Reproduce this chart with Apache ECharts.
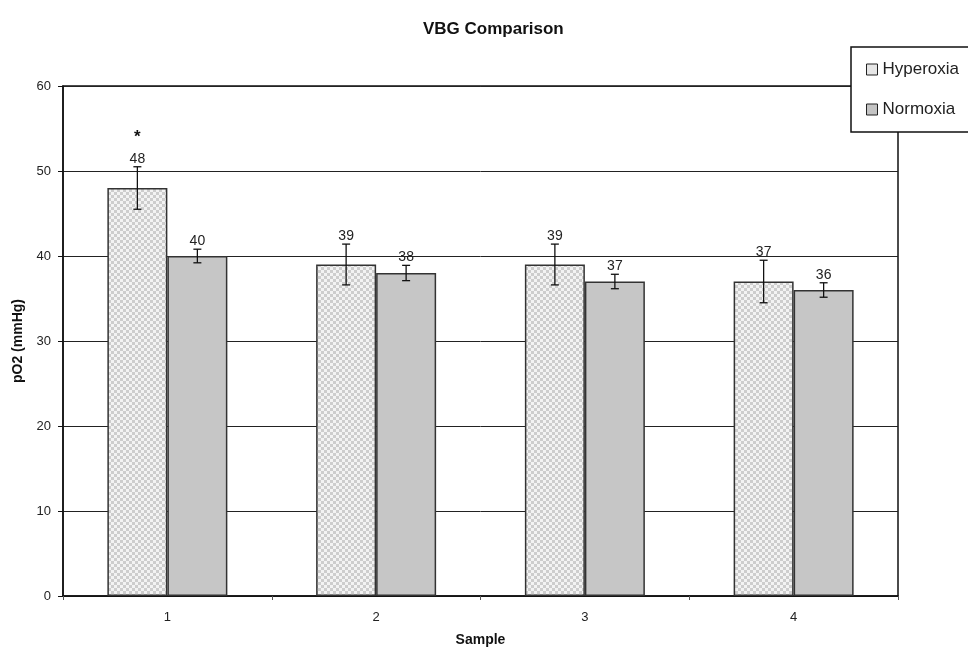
<!DOCTYPE html>
<html>
<head>
<meta charset="utf-8">
<script src="https://cdn.jsdelivr.net/npm/echarts@6/dist/echarts.min.js"></script>
<style>html,body{margin:0;padding:0;background:#fff}#c{width:968px;height:649px}</style>
</head>
<body>
<div id="c"></div>
<script>
const categories = ['1', '2', '3', '4'];
const hyperoxia = [48, 39, 39, 37];
const normoxia = [40, 38, 37, 36];
const hyperErr = [2.5, 2.4, 2.4, 2.5];
const normErr = [0.8, 0.9, 0.85, 0.85];
const annotations = ['*', '', '', ''];
const yTicks = [0, 10, 20, 30, 40, 50, 60];

function checker() {
  const c = document.createElement('canvas');
  c.width = 6; c.height = 6;
  const g = c.getContext('2d');
  g.fillStyle = '#f3f3f3'; g.fillRect(0, 0, 6, 6);
  g.fillStyle = '#cdcdcd'; g.fillRect(0, 0, 3, 3); g.fillRect(3, 3, 3, 3);
  return c;
}

const FONT = 'Liberation Sans, Arial, sans-serif';
const BAR_W = 60;

function errSeries(name, vals, errs, side, notes) {
  return {
    name: name,
    type: 'custom',
    coordinateSystem: 'cartesian2d',
    z: 10,
    encode: { x: 0, y: 1 },
    data: vals.map((v, i) => [i, v, errs[i]]),
    renderItem: function (params, api) {
      const i = api.value(0), v = api.value(1), e = api.value(2);
      const note = notes ? notes[params.dataIndex] : '';
      const c = api.coord([i, v]);
      const x = c[0] + side * BAR_W / 2;
      const top = api.coord([i, v + e])[1];
      const bot = api.coord([i, v - e])[1];
      const st = { stroke: '#111', lineWidth: 1.3 };
      const children = [
        { type: 'line', shape: { x1: x, y1: top, x2: x, y2: bot }, style: st },
        { type: 'line', shape: { x1: x - 4, y1: top, x2: x + 4, y2: top }, style: st },
        { type: 'line', shape: { x1: x - 4, y1: bot, x2: x + 4, y2: bot }, style: st },
        { type: 'text', style: { text: String(v), x: x, y: top - 1, align: 'center', verticalAlign: 'bottom',
          font: '14px ' + FONT, fill: '#222' } }
      ];
      if (note) {
        children.push({ type: 'text', style: { text: note, x: x, y: top - 21, align: 'center', verticalAlign: 'bottom',
          font: 'bold 17px ' + FONT, fill: '#111' } });
      }
      return { type: 'group', children: children };
    }
  };
}

const chart = echarts.init(document.getElementById('c'));
chart.setOption({
  backgroundColor: '#fff',
  animation: false,
  title: {
    text: 'VBG Comparison', left: 418, top: 16,
    textStyle: { fontFamily: FONT, fontSize: 17, fontWeight: 'bold', color: '#111' }
  },
  legend: {
    orient: 'vertical', left: 851, top: 47,
    padding: [14, 30, 14, 15], itemGap: 23,
    itemWidth: 11, itemHeight: 11, icon: 'rect',
    backgroundColor: '#fff', borderColor: '#111', borderWidth: 1.5,
    textStyle: { fontFamily: FONT, fontSize: 17, color: '#222' },
    data: [
      { name: 'Hyperoxia', itemStyle: { color: '#e6e6e6', borderColor: '#222', borderWidth: 1 } },
      { name: 'Normoxia', itemStyle: { color: '#c4c4c4', borderColor: '#222', borderWidth: 1 } }
    ]
  },
  grid: { left: 63, right: 70, top: 86, bottom: 53, outerBoundsMode: 'none', containLabel: false,
    show: true, borderColor: '#111', borderWidth: 1.5, backgroundColor: 'transparent' },
  xAxis: {
    type: 'category', data: categories,
    name: 'Sample', nameLocation: 'middle', nameGap: 37,
    nameTextStyle: { fontFamily: FONT, fontSize: 14, fontWeight: 'bold', color: '#111' },
    axisLine: { lineStyle: { color: '#111', width: 1.5 } },
    axisTick: { show: true, length: 4, lineStyle: { color: '#555' } },
    axisLabel: { fontFamily: FONT, fontSize: 13, color: '#222', margin: 15 }
  },
  yAxis: {
    type: 'value', min: yTicks[0], max: yTicks[yTicks.length - 1], interval: 10,
    name: 'pO2 (mmHg)', nameLocation: 'middle', nameGap: 25,
    nameTextStyle: { fontFamily: FONT, fontSize: 14, fontWeight: 'bold', color: '#111' },
    axisLine: { show: true, lineStyle: { color: '#111', width: 1.5 } },
    axisTick: { show: true, length: 5, lineStyle: { color: '#111' } },
    axisLabel: { fontFamily: FONT, fontSize: 13, color: '#222', margin: 12 },
    splitLine: { show: true, lineStyle: { color: '#222', width: 1 } }
  },
  series: [
    {
      name: 'Hyperoxia', type: 'bar', data: hyperoxia, barWidth: BAR_W, barGap: '0%',
      itemStyle: { color: { image: checker(), repeat: 'repeat' }, borderColor: '#333', borderWidth: 1.5 }
    },
    {
      name: 'Normoxia', type: 'bar', data: normoxia, barWidth: BAR_W, barGap: '0%',
      itemStyle: { color: '#c6c6c6', borderColor: '#333', borderWidth: 1.5 }
    },
    errSeries('Hyperoxia err', hyperoxia, hyperErr, -1, annotations),
    errSeries('Normoxia err', normoxia, normErr, 1, null)
  ]
});
</script>
</body>
</html>
